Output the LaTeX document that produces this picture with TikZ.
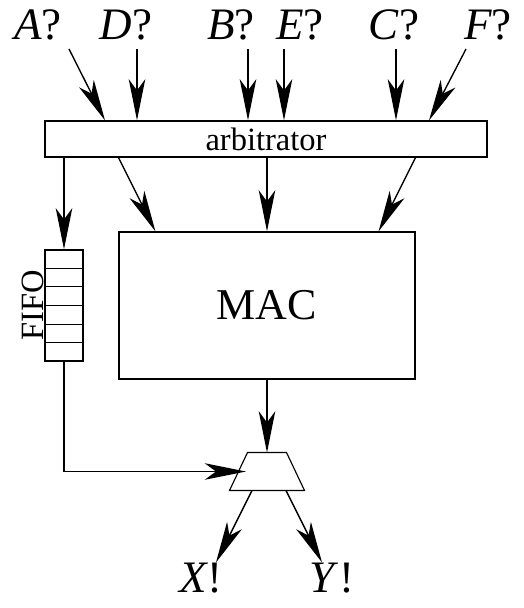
\documentclass[tikz,border=0pt]{standalone}
\usepackage{fontspec}
\setmainfont{Liberation Serif}
\usepackage{tikz}
\usetikzlibrary{positioning, arrows.meta, calc}

\begin{document}
\begin{tikzpicture}[
  x=0.4pt, y=-0.4pt,
  box/.style={rectangle, draw, line width=0.45pt, inner sep=0pt},
  arbbox/.style={box, minimum width=176.8pt, minimum height=14.4pt, font=\fontsize{13}{15}\selectfont},
  macbox/.style={box, minimum width=118.4pt, minimum height=58.8pt, font=\fontsize{17.6}{20}\selectfont},
  fifobox/.style={box, minimum width=15.2pt, minimum height=44.4pt},
  muxbox/.style={inner sep=0pt, minimum width=29.6pt, minimum height=14.8pt},
  sig/.style={inner sep=0pt, font=\fontsize{18}{21}\selectfont},
  arr/.style={-{Stealth[length=16.5pt, width=6.6pt, inset=4.5pt]}, line width=0.55pt},
  ilabel/.style={font=\fontsize{13}{15}\selectfont, inner sep=0pt}
]
\useasboundingbox (0,0) rectangle (524,608);

\node[arbbox] (arb) at (266,139) {arbitrator};
\node[macbox] (mac) at (267,305.5) {MAC};
\node[fifobox] (fifo) at (64,305.5) {};
\node[muxbox] (mux) at (267,471.5) {};

% fifo cells
\foreach \i in {1,...,5}
  \draw[line width=0.45pt] ($(fifo.north west)!\i/6!(fifo.south west)$) -- ($(fifo.north east)!\i/6!(fifo.south east)$);
\node[ilabel, rotate=90, anchor=south] (fifolbl) at (fifo.west) {FIFO};

% multiplexer
\draw[line width=0.45pt] (mux.south west) -- (mux.south east)
  -- ([xshift=-7.2pt]mux.north east) -- ([xshift=7.2pt]mux.north west) -- cycle;

% inputs
\foreach \s/\lx/\tx/\hx in {A/38/69/105, D/126/137/137, B/231/248/248, E/300/284/284, C/394/396/396, F/488/466/429} {
  \node[sig] (\s) at (\lx,24.5) {\textit{\s}?};
  \coordinate (\s0) at (\tx,49);
  \draw[arr] (\s0) -- (\hx,0 |- arb.north);
}

\draw[arr] (arb.south -| fifo.north) -- (fifo.north);
\draw[arr] (arb.south -| mac.west) -- ([xshift=14.8pt]mac.north west);
\draw[arr] (arb.south -| mac.north) -- (mac.north);
\draw[arr] (arb.south -| mac.east) -- ([xshift=-14.8pt]mac.north east);

\draw[arr] (mac.south) -- (mux.north);
\draw[arr] (fifo.south) |- ([xshift=-8.4pt]mux.center);

% outputs
\node[sig] (X) at (201,578) {\textit{X}!};
\node[sig] (Y) at (332,578) {\textit{Y}!};
\draw[arr] ([xshift=-6pt]mux.south) -- ([xshift=6pt]X.north);
\draw[arr] ([xshift=7.6pt]mux.south) -- ([xshift=-4pt]Y.north);
\end{tikzpicture}
\end{document}
